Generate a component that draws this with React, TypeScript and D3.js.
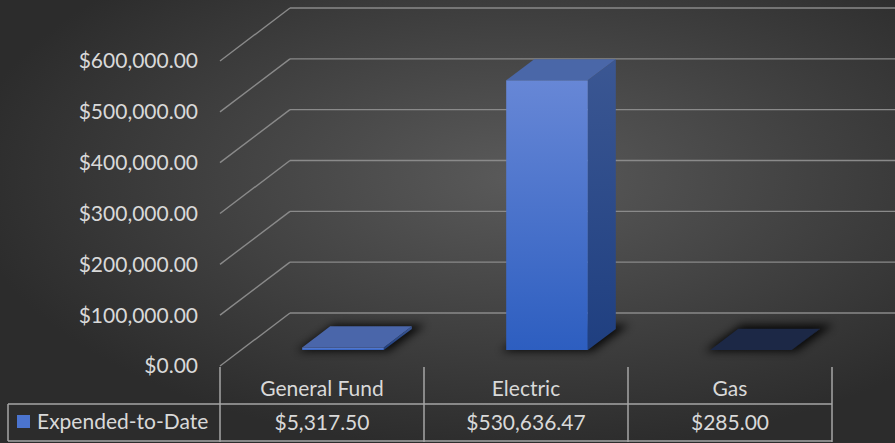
import React from 'react';
import * as d3 from 'd3';

const categories = ['General Fund', 'Electric', 'Gas'];
const expended = [5317.5, 530636.47, 285.0];
const seriesName = 'Expended-to-Date';
const yTicks = [0, 100000, 200000, 300000, 400000, 500000, 600000];

// top faces are lit differently in the original 3D render
const topFaceColors = ['#4a66aa', '#4a67a8', '#1c2846'];

const W = 895;
const H = 443;
const plotLeft = 220;
const plotRight = 832;
const depthX = 70;
const depthY = 53;
const barD0 = 0.3;
const barD1 = 0.7;

const fmt = d3.format('$,.2f');
const FONT = 'Lato, sans-serif';
const FS = 21;

export default function App() {
  const x = d3.scaleBand<string>()
    .domain(categories)
    .range([plotLeft, plotRight])
    .paddingInner(0.6)
    .paddingOuter(0.3);

  const y = d3.scaleLinear()
    .domain([0, 600000])
    .range([366, 61]);

  const step = x.step();
  const bw = x.bandwidth();

  const p = (xx: number, v: number, d: number) => [xx + depthX * d, y(v) - depthY * d];
  const poly = (pts: number[][]) => pts.map(q => q.join(',')).join(' ');

  const colEdges = d3.range(categories.length + 1).map(i => plotLeft + i * step);

  return (
    <svg width={W} height={H} style={{ position: 'absolute', left: 0, top: 0 }}>
      <defs>
        <radialGradient id="bg" cx="0.58" cy="0.4" r="0.62">
          <stop offset="0" stopColor="#5a5a5a" />
          <stop offset="1" stopColor="#2c2c2c" />
        </radialGradient>
        <linearGradient id="front" x1="0" y1="0" x2="0" y2="1">
          <stop offset="0" stopColor="#6787d6" />
          <stop offset="1" stopColor="#2d5ec0" />
        </linearGradient>
        <linearGradient id="side" x1="0" y1="0" x2="0" y2="1">
          <stop offset="0" stopColor="#3b5793" />
          <stop offset="1" stopColor="#1f3f80" />
        </linearGradient>
        <filter id="shadow" x="-50%" y="-50%" width="200%" height="200%">
          <feGaussianBlur stdDeviation="4" />
        </filter>
      </defs>

      <rect width={W} height={H} fill="url(#bg)" />

      {/* walls: back gridlines and left side diagonals */}
      <g stroke="#8a8a8a" strokeWidth={1.4} fill="none">
        {yTicks.map(t => (
          <g key={t}>
            <line x1={plotLeft} y1={y(t)} x2={plotLeft + depthX} y2={y(t) - depthY} />
            <line x1={plotLeft + depthX} y1={y(t) - depthY} x2={W} y2={y(t) - depthY} />
          </g>
        ))}
      </g>

      {/* y axis labels */}
      <g fill="#d9d9d9" fontFamily={FONT} fontSize={FS} textAnchor="end">
        {yTicks.map(t => (
          <text key={t} x={198} y={y(t)} dy="0.35em">{fmt(t)}</text>
        ))}
      </g>

      {/* bar shadows */}
      <g filter="url(#shadow)" fill="#000" opacity={0.85}>
        {categories.map(c => {
          const x0 = x(c)!;
          const x1 = x0 + bw;
          return (
            <polygon key={c} points={poly([
              p(x0 - 4, 0, barD0 - 0.02), p(x1 + 6, 0, barD0 - 0.02),
              p(x1 + 8, 0, barD1 + 0.08), p(x0 - 2, 0, barD1 + 0.08),
            ])} />
          );
        })}
      </g>

      {/* bars */}
      {categories.map((c, i) => {
        const v = expended[i];
        const x0 = x(c)!;
        const x1 = x0 + bw;
        return (
          <g key={c}>
            <polygon fill="url(#side)" points={poly([p(x1, v, barD0), p(x1, v, barD1), p(x1, 0, barD1), p(x1, 0, barD0)])} />
            <polygon fill={v > 2000 ? 'url(#front)' : '#3a5faa'} points={poly([p(x0, v, barD0), p(x1, v, barD0), p(x1, 0, barD0), p(x0, 0, barD0)])} />
            <polygon fill={topFaceColors[i]} points={poly([p(x0, v, barD0), p(x1, v, barD0), p(x1, v, barD1), p(x0, v, barD1)])} />
          </g>
        );
      })}

      {/* data table */}
      <g stroke="#a6a6a6" strokeWidth={1.5} fill="none">
        {colEdges.map(e => (
          <line key={e} x1={e} y1={367} x2={e} y2={442} />
        ))}
        <line x1={8} y1={404} x2={plotRight} y2={404} />
        <line x1={8} y1={441} x2={plotRight} y2={441} />
        <line x1={8} y1={404} x2={8} y2={441} />
      </g>
      <g fill="#d9d9d9" fontFamily={FONT} fontSize={FS} textAnchor="middle">
        {categories.map(c => (
          <text key={c} x={x(c)! + bw / 2} y={389} dy="0.35em">{c}</text>
        ))}
        {categories.map((c, i) => (
          <text key={c + 'v'} x={x(c)! + bw / 2} y={423} dy="0.35em">{fmt(expended[i])}</text>
        ))}
      </g>
      <rect x={17} y={415} width={13} height={13} fill="#4b74cf" />
      <text x={37} y={422} dy="0.35em" fill="#d9d9d9" fontFamily={FONT} fontSize={FS}>{seriesName}</text>
    </svg>
  );
}
